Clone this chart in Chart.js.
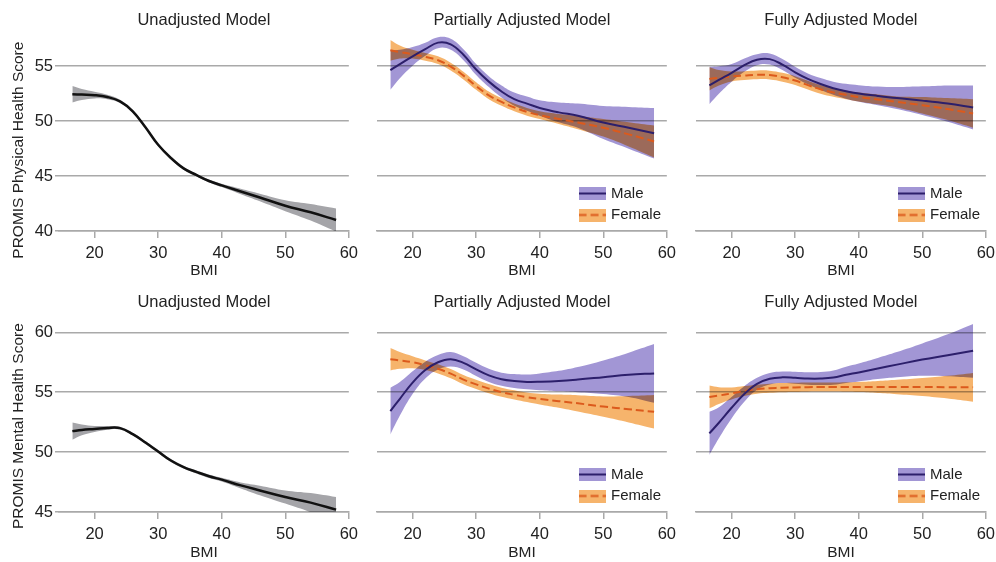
<!DOCTYPE html>
<html>
<head>
<meta charset="utf-8">
<title>PROMIS scores by BMI</title>
<script src="https://cdn.jsdelivr.net/npm/chart.js@4.4.1/dist/chart.umd.min.js"></script>
<style>
  html, body { margin: 0; padding: 0; background: #fff; overflow: hidden; }
  #wrap { position: relative; width: 996px; height: 562px; }
  canvas { position: absolute; }
</style>
</head>
<body>
<div id="wrap">
  <canvas id="physUnadj" width="364" height="281" style="left:0;top:0"></canvas>
  <canvas id="physPart" width="318" height="281" style="left:364px;top:0"></canvas>
  <canvas id="physFull" width="319" height="281" style="left:682px;top:0"></canvas>
  <canvas id="mentUnadj" width="364" height="281" style="left:0;top:281px"></canvas>
  <canvas id="mentPart" width="318" height="281" style="left:364px;top:281px"></canvas>
  <canvas id="mentFull" width="319" height="281" style="left:682px;top:281px"></canvas>
</div>
<script>
var bmi = [16.5, 18, 20, 22, 24, 26, 28, 30, 32, 34, 36, 38, 40, 43, 46, 50, 54, 58];

var bmiTicks = [20, 30, 40, 50, 60];
var physTicks = [40, 45, 50, 55];
var mentTicks = [45, 50, 55, 60];

// physical health - estimate and half width of the band
var physAll = [52.45, 52.42, 52.37, 52.2, 51.8, 50.9, 49.45, 47.85, 46.65, 45.7, 45.1, 44.55, 44.15, 43.6, 43.05, 42.3, 41.7, 41.0];
var physAllCi = [0.75, 0.5, 0.3, 0.2, 0.15, 0.13, 0.12, 0.12, 0.12, 0.12, 0.12, 0.13, 0.15, 0.25, 0.35, 0.5, 0.75, 1.05];
var physPartMale = [54.65, 55.2, 55.9, 56.55, 57.15, 57.0, 56.05, 54.7, 53.6, 52.7, 52.0, 51.6, 51.2, 50.8, 50.5, 49.88, 49.4, 48.9];
var physPartMaleCi = [1.8, 1.3, 0.85, 0.6, 0.5, 0.5, 0.5, 0.5, 0.5, 0.55, 0.6, 0.65, 0.7, 0.9, 1.1, 1.5, 1.9, 2.3];
var physPartFemale = [56.45, 56.3, 56.1, 55.85, 55.55, 54.97, 54.15, 53.2, 52.35, 51.75, 51.25, 50.85, 50.55, 50.2, 49.87, 49.4, 48.8, 48.15];
var physPartFemaleCi = [0.95, 0.6, 0.4, 0.35, 0.35, 0.35, 0.35, 0.35, 0.35, 0.35, 0.35, 0.35, 0.35, 0.45, 0.6, 0.8, 1.1, 1.45];
var physFullMale = [53.25, 53.75, 54.4, 55.1, 55.6, 55.65, 55.15, 54.45, 53.85, 53.38, 53.0, 52.72, 52.52, 52.3, 52.1, 51.87, 51.6, 51.25];
var physFullMaleCi = [1.7, 1.25, 0.8, 0.6, 0.5, 0.5, 0.5, 0.5, 0.5, 0.55, 0.6, 0.68, 0.76, 0.85, 1.0, 1.3, 1.65, 2.0];
var physFullFemale = [53.85, 53.95, 54.07, 54.15, 54.22, 54.2, 54.0, 53.7, 53.28, 52.9, 52.62, 52.4, 52.2, 51.98, 51.75, 51.45, 51.1, 50.7];
var physFullFemaleCi = [1.05, 0.7, 0.45, 0.4, 0.4, 0.4, 0.4, 0.4, 0.4, 0.4, 0.4, 0.4, 0.4, 0.45, 0.5, 0.75, 1.0, 1.3];

// mental health
var mentAll = [51.75, 51.85, 51.93, 52.02, 52.0, 51.5, 50.8, 50.05, 49.3, 48.75, 48.35, 47.98, 47.7, 47.22, 46.8, 46.25, 45.78, 45.2];
var mentAllCi = [0.72, 0.45, 0.25, 0.15, 0.12, 0.12, 0.12, 0.12, 0.12, 0.12, 0.13, 0.14, 0.15, 0.25, 0.4, 0.55, 0.8, 1.05];
var mentPartMale = [53.42, 54.45, 55.8, 56.85, 57.5, 57.75, 57.45, 56.9, 56.4, 56.08, 55.93, 55.86, 55.87, 55.93, 56.05, 56.25, 56.45, 56.57];
var mentPartMaleCi = [1.95, 1.4, 0.95, 0.7, 0.6, 0.6, 0.55, 0.55, 0.55, 0.55, 0.58, 0.62, 0.7, 0.85, 1.05, 1.4, 1.85, 2.45];
var mentPartFemale = [57.75, 57.65, 57.5, 57.25, 56.95, 56.55, 56.05, 55.65, 55.3, 55.0, 54.78, 54.58, 54.43, 54.25, 54.07, 53.8, 53.58, 53.36];
var mentPartFemaleCi = [0.93, 0.7, 0.5, 0.4, 0.38, 0.38, 0.38, 0.38, 0.38, 0.38, 0.38, 0.4, 0.45, 0.55, 0.68, 0.85, 1.1, 1.4];
var mentFullMale = [51.56, 52.45, 53.7, 54.85, 55.7, 56.12, 56.24, 56.2, 56.14, 56.14, 56.22, 56.45, 56.65, 56.98, 57.3, 57.72, 58.08, 58.45];
var mentFullMaleCi = [1.8, 1.3, 0.9, 0.65, 0.5, 0.48, 0.48, 0.5, 0.52, 0.55, 0.6, 0.68, 0.75, 0.88, 1.05, 1.35, 1.75, 2.25];
var mentFullFemale = [54.6, 54.72, 54.9, 55.1, 55.25, 55.33, 55.38, 55.4, 55.42, 55.43, 55.43, 55.43, 55.43, 55.43, 55.43, 55.43, 55.42, 55.41];
var mentFullFemaleCi = [0.95, 0.7, 0.5, 0.42, 0.38, 0.38, 0.38, 0.38, 0.38, 0.38, 0.38, 0.4, 0.42, 0.5, 0.6, 0.75, 0.95, 1.2];

Chart.defaults.font.family = "'Liberation Sans', Arial, sans-serif";
Chart.defaults.color = "#222";

var gridGray = "#a9a9a9";
var maleLine = "#2c1f6b", maleBand = "#a296d5";
var femaleLine = "#dc5a1c", femaleBand = "#f6b46c";

function swatch(fill, stroke, dash) {
    var c = document.createElement("canvas");
    c.width = 27;
    c.height = 13;
    var g = c.getContext("2d");
    g.fillStyle = fill;
    g.fillRect(0, 0, 27, 13);
    g.strokeStyle = stroke;
    g.lineWidth = 2;
    g.setLineDash(dash || []);
    g.beginPath();
    g.moveTo(0, 6.5);
    g.lineTo(27, 6.5);
    g.stroke();
    return c;
}

function pts(vals, ci, sign) {
    return bmi.map(function(x, i) {
        return { x: x, y: vals[i] + sign * (ci ? ci[i] : 0) };
    });
}

// bands are multiplied so the overlap of purple and orange turns brown
var multiplyBands = {
    id: "multiplyBands",
    beforeDatasetsDraw: function(chart) {
        chart.ctx.globalCompositeOperation = "multiply";
    },
    beforeDatasetDraw: function(chart, args) {
        chart.ctx.globalCompositeOperation = chart.data.datasets[args.index].isBand ? "multiply" : "source-over";
    },
    afterDatasetsDraw: function(chart) {
        chart.ctx.globalCompositeOperation = "source-over";
    },
};

// move the legend into the lower right corner of the plot
var legendCorner = {
    id: "legendCorner",
    afterLayout: function(chart) {
        var lg = chart.legend, a = chart.chartArea;
        lg.left = a.right - 92.8;
        lg.right = a.right;
        lg.top = a.top;
        lg.bottom = a.bottom - 2;
    },
};

// vertical axis title, drawn without the width limit of the scale title
var sideTitle = {
    id: "sideTitle",
    afterDraw: function(chart, args, opts) {
        if (!opts.text) return;
        var ctx = chart.ctx, a = chart.chartArea;
        ctx.save();
        ctx.translate(opts.x, (a.top + a.bottom) / 2 + opts.shift);
        ctx.rotate(-Math.PI / 2);
        ctx.font = "15.5px 'Liberation Sans', Arial, sans-serif";
        ctx.fillStyle = "#222";
        ctx.textAlign = "center";
        ctx.textBaseline = "middle";
        ctx.fillText(opts.text, 0, 0);
        ctx.restore();
    },
};

function panel(id, o) {
    var first = !!o.yTitle;
    var lines = o.series.map(function(s) {
        return {
            label: s.label,
            data: pts(s.mean, null, 0),
            borderColor: s.line,
            borderWidth: s.width || 2,
            borderDash: s.dash || [],
            pointRadius: 0,
            pointStyle: swatch(s.band, s.line, s.dash),
            tension: 0.4,
            fill: false,
        };
    });
    var bands = [];
    o.series.forEach(function(s) {
        bands.push({
            label: s.label + " upper",
            data: pts(s.mean, s.ci, 1),
            borderWidth: 0,
            pointRadius: 0,
            tension: 0.4,
            fill: false,
            isBand: true,
        });
        bands.push({
            label: s.label + " lower",
            data: pts(s.mean, s.ci, -1),
            borderWidth: 0,
            pointRadius: 0,
            tension: 0.4,
            backgroundColor: s.band,
            fill: "-1",
            isBand: true,
        });
    });

    new Chart(document.getElementById(id), {
        type: "line",
        data: { datasets: lines.concat(bands) },
        options: {
            responsive: false,
            animation: false,
            events: [],
            layout: { padding: { left: o.padLeft, right: 15, top: 0, bottom: 0 } },
            plugins: {
                title: {
                    display: true,
                    text: o.title,
                    fullSize: false,
                    color: "#222",
                    font: { size: 16.5, weight: "normal" },
                    padding: o.titlePad,
                },
                legend: {
                    display: !!o.legend,
                    position: "chartArea",
                    align: "end",
                    labels: {
                        usePointStyle: true,
                        pointStyleWidth: 23,
                        padding: 6.5,
                        color: "#222",
                        font: { size: 15 },
                        filter: function(item) {
                            return item.datasetIndex < o.series.length;
                        },
                    },
                },
                tooltip: { enabled: false },
                sideTitle: { text: o.yTitle, x: 19, shift: o.yTitleShift || 0 },
            },
            scales: {
                x: {
                    type: "linear",
                    min: 14.4,
                    max: 60,
                    afterBuildTicks: function(s) {
                        s.ticks = bmiTicks.map(function(v) { return { value: v }; });
                    },
                    afterFit: function(s) { s.height = 50; },
                    grid: { drawOnChartArea: false, tickLength: 7, color: gridGray, lineWidth: 1.5 },
                    border: { color: gridGray, width: 1.5 },
                    ticks: { font: { size: 16.5 }, padding: 6, maxRotation: 0, autoSkip: false },
                    title: {
                        display: true,
                        text: "BMI",
                        font: { size: 15.5 },
                        padding: { top: 0, bottom: o.bmiPad },
                    },
                },
                y: {
                    min: o.yMin,
                    max: o.yMax,
                    afterBuildTicks: function(s) {
                        s.ticks = o.yTicks.map(function(v) { return { value: v }; });
                    },
                    afterFit: function(s) { s.width = first ? 59 : 0; },
                    grid: { color: gridGray, lineWidth: 1.5, drawTicks: first, tickLength: 4 },
                    border: { display: false },
                    ticks: { display: first, font: { size: 16.5 }, padding: 2 },
                },
            },
        },
        plugins: [multiplyBands, sideTitle].concat(o.legend ? [legendCorner] : []),
    });
}

var topPad = { top: 10.2, bottom: 3.3 };
var botPad = { top: 11.2, bottom: 8.3 };

function sexSeries(m, mci, f, fci) {
    return [
        { label: "Male", mean: m, ci: mci, line: maleLine, band: maleBand },
        { label: "Female", mean: f, ci: fci, line: femaleLine, band: femaleBand, dash: [8, 4] },
    ];
}

panel("physUnadj", {
    title: "Unadjusted Model", yTitle: "PROMIS Physical Health Score", yTitleShift: 18,
    yMin: 40, yMax: 58, yTicks: physTicks, padLeft: 0, titlePad: topPad, bmiPad: 0.7,
    series: [{ label: "Overall", mean: physAll, ci: physAllCi, line: "#111111", band: "#a5a5a9", width: 2.5 }],
});
panel("physPart", {
    title: "Partially Adjusted Model", yMin: 40, yMax: 58, yTicks: physTicks, padLeft: 13,
    titlePad: topPad, bmiPad: 0.7, legend: true,
    series: sexSeries(physPartMale, physPartMaleCi, physPartFemale, physPartFemaleCi),
});
panel("physFull", {
    title: "Fully Adjusted Model", yMin: 40, yMax: 58, yTicks: physTicks, padLeft: 14,
    titlePad: topPad, bmiPad: 0.7, legend: true,
    series: sexSeries(physFullMale, physFullMaleCi, physFullFemale, physFullFemaleCi),
});
panel("mentUnadj", {
    title: "Unadjusted Model", yTitle: "PROMIS Mental Health Score", yTitleShift: 10,
    yMin: 45, yMax: 61, yTicks: mentTicks, padLeft: 0, titlePad: botPad, bmiPad: 0,
    series: [{ label: "Overall", mean: mentAll, ci: mentAllCi, line: "#111111", band: "#a5a5a9", width: 2.5 }],
});
panel("mentPart", {
    title: "Partially Adjusted Model", yMin: 45, yMax: 61, yTicks: mentTicks, padLeft: 13,
    titlePad: botPad, bmiPad: 0, legend: true,
    series: sexSeries(mentPartMale, mentPartMaleCi, mentPartFemale, mentPartFemaleCi),
});
panel("mentFull", {
    title: "Fully Adjusted Model", yMin: 45, yMax: 61, yTicks: mentTicks, padLeft: 14,
    titlePad: botPad, bmiPad: 0, legend: true,
    series: sexSeries(mentFullMale, mentFullMaleCi, mentFullFemale, mentFullFemaleCi),
});
</script>
</body>
</html>
